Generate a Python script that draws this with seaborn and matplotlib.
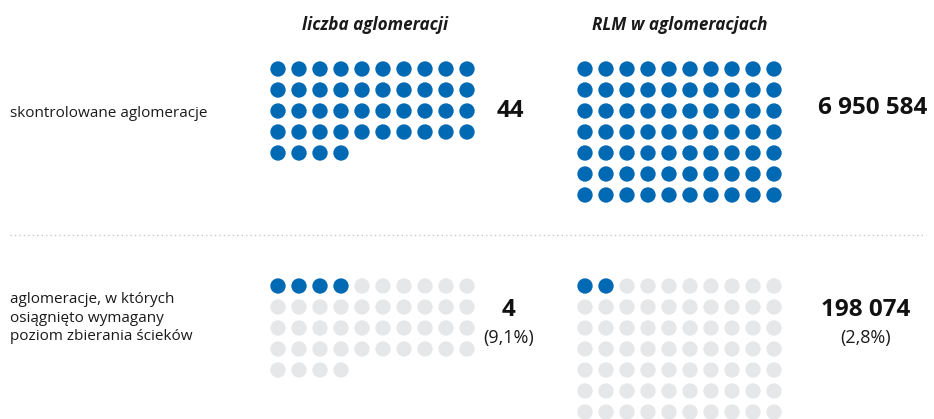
import numpy as np
import pandas as pd
import matplotlib
matplotlib.use("Agg")
import matplotlib.pyplot as plt
import seaborn as sns

# Data
rows = ["skontrolowane aglomeracje",
        "aglomeracje, w których\nosiągnięto wymagany\npoziom zbierania ścieków"]
liczba = [44, 4]              # liczba aglomeracji
rlm = [6950584, 198074]       # RLM w aglomeracjach
rlm_dots = 70                 # all RLM shown as 70 dots
titles = ["liczba aglomeracji", "RLM w aglomeracjach"]

BLUE = "#0069b4"
GREY = "#e6e7e9"

sns.set_theme(style="white")
plt.rcParams['font.family'] = ['Open Sans', 'DejaVu Sans']

fig = plt.figure(figsize=(9.34, 4.19), dpi=100)
ax = fig.add_axes([0, 0, 1, 1])
ax.set_xlim(0, 934)
ax.set_ylim(419, 0)
ax.axis("off")


def grid(total, filled, x0, y0, step=21, ncol=10):
    idx = np.arange(total)
    return pd.DataFrame({
        "x": x0 + (idx % ncol) * step,
        "y": y0 + (idx // ncol) * step,
        "on": np.where(idx < filled, "on", "off"),
    })


def fmt(n):
    return f"{n:,}".replace(",", " ")


top_y = [69, 286]
dots = []
for r in range(2):
    dots.append(grid(liczba[0], liczba[r], 278, top_y[r]))
    filled_r = int(round(rlm[r] / rlm[0] * rlm_dots))
    dots.append(grid(rlm_dots, filled_r, 585, top_y[r]))
df = pd.concat(dots, ignore_index=True)

sns.scatterplot(data=df, x="x", y="y", hue="on", palette={"on": BLUE, "off": GREY},
                s=122, linewidth=0, legend=False, ax=ax, clip_on=False)

# titles
ax.text(375, 25, titles[0], ha="center", va="center", fontsize=12.3,
        fontweight="bold", fontstyle="italic", color="#1a1a1a")
ax.text(680, 25, titles[1], ha="center", va="center", fontsize=12.3,
        fontweight="bold", fontstyle="italic", color="#1a1a1a")

# row labels
ax.text(10, 113, rows[0], ha="left", va="center", fontsize=11, color="#1a1a1a")
ax.text(10, 318, rows[1], ha="left", va="center", fontsize=11, color="#1a1a1a",
        linespacing=1.3)

# numbers
ax.text(510, 111, fmt(liczba[0]), ha="center", va="center", fontsize=17.5,
        fontweight="bold", color="#111111")
ax.text(873, 108, fmt(rlm[0]), ha="center", va="center", fontsize=17.5,
        fontweight="bold", color="#111111")

ax.text(509, 310, fmt(liczba[1]), ha="center", va="center", fontsize=17.5,
        fontweight="bold", color="#111111")
pct_l = f"({liczba[1] / liczba[0] * 100:.1f}%)".replace(".", ",")
ax.text(509, 338, pct_l, ha="center", va="center", fontsize=13, color="#1a1a1a")

ax.text(866, 310, fmt(rlm[1]), ha="center", va="center", fontsize=17.5,
        fontweight="bold", color="#111111")
pct_r = f"({int(rlm[1] / rlm[0] * 1000) / 10:.1f}%)".replace(".", ",")
ax.text(866, 338, pct_r, ha="center", va="center", fontsize=13, color="#1a1a1a")

# dotted separator
ax.plot([10, 926], [235, 235], linestyle=(0, (1, 2.2)), color="#c8c8c8", linewidth=1)

fig.savefig("out.png", dpi=100)
